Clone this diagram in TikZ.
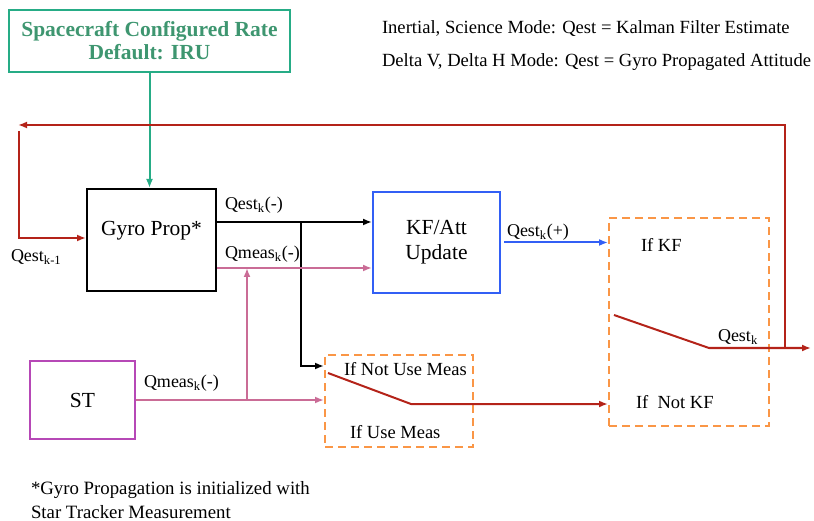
\documentclass[tikz,border=0pt]{standalone}
\usepackage{fontspec}
\setmainfont{Liberation Serif}
\usetikzlibrary{positioning,arrows.meta}

\definecolor{rategreen}{RGB}{38,172,134}
\definecolor{ratetext}{RGB}{62,150,112}
\definecolor{loopred}{RGB}{180,35,25}
\definecolor{measpink}{RGB}{202,108,150}
\definecolor{stpurple}{RGB}{182,72,182}
\definecolor{kfblue}{RGB}{50,95,245}
\definecolor{switchorange}{RGB}{250,150,70}

\tikzset{
	blockfont/.style={font=\fontsize{21.5}{25}\selectfont},
	lbl/.style={font=\fontsize{18}{22}\selectfont, inner sep=0pt, anchor=west},
	notefont/.style={font=\fontsize{18.6}{22}\selectfont},
	flow/.style={-{Latex[length=9pt,width=7pt]}},
	switchbox/.style={draw=switchorange, line width=2pt, dash pattern=on 8pt off 5pt},
}

\begin{document}
\begin{tikzpicture}[x=1pt, y=-1pt, line width=2pt]

\useasboundingbox (0,0) rectangle (814,521);

% Rate source
\node [draw=rategreen,
	line width=2.2pt,
	minimum width=281pt,
	minimum height=62pt,
	align=center,
	text=ratetext,
	font=\bfseries\fontsize{21.5}{23}\selectfont
] (rate) at (149.5,41) {
Spacecraft Configured Rate\\Default: IRU
};

% Mode notes
\node [lbl, notefont] (inertial) at (381,29) {Inertial, Science Mode: Qest = Kalman Filter Estimate};
\node [lbl, notefont] (delta) at (381,62) {Delta V, Delta H Mode: Qest = Gyro Propagated Attitude};

% Gyro propagation
\node [draw,
	minimum width=129pt,
	minimum height=102pt,
	text depth=24pt,
	blockfont
] (gyro) at (151.5,240) {
Gyro Prop*
};

% KF / attitude update
\node [draw=kfblue,
	minimum width=127pt,
	minimum height=101pt,
	align=center,
	blockfont
] (kf) at (436.5,242.5) {
KF/Att\\Update
};

% Star tracker
\node [draw=stpurple,
	minimum width=105pt,
	minimum height=78pt,
	blockfont
] (st) at (82.5,400) {
ST
};

% Measurement switch
\node [switchbox,
	minimum width=148pt,
	minimum height=92pt
] (selmeas) at (399,401) {};
\node [lbl, font=\fontsize{18.5}{22}\selectfont] (notuse) at (343,369) {If Not Use Meas};
\node [lbl, font=\fontsize{18.5}{22}\selectfont] (use) at (349,432) {If Use Meas};

% KF switch
\node [switchbox,
	minimum width=160pt,
	minimum height=208pt
] (selkf) at (689,322) {};
\node [lbl, font=\fontsize{18.5}{22}\selectfont] (ifkf) at (640,245) {If KF};
\node [lbl, font=\fontsize{18.5}{22}\selectfont] (ifnotkf) at (635,402) {If\ \ Not KF};

% Footnote
\node [lbl, font=\fontsize{18.8}{22}\selectfont] (note1) at (30,490) {*Gyro Propagation is initialized with};
\node [lbl, font=\fontsize{18.8}{22}\selectfont] (note2) at (30,512) {Star Tracker Measurement};

% Arrows with text label
\draw[flow, rategreen] (rate.south) -- (rate.south |- gyro.north);

\draw[flow] ([yshift=18pt]gyro.east) -- ([yshift=18pt]gyro.east -| kf.west);
\node [lbl] (qestminus) at (224,205) {Qest\textsubscript{k}(-)};
\coordinate (branch) at (301,222);
\draw[flow] (branch) |- ([yshift=35pt]selmeas.west);

\draw[flow, measpink] ([yshift=-28pt]gyro.east) -- ([yshift=-28pt]gyro.east -| kf.west);
\node [lbl] (qmeasgyro) at (224,254) {Qmeas\textsubscript{k}(-)};
\draw[flow, measpink] (st.east) -- (st.east -| selmeas.west);
\node [lbl] (qmeasst) at (143,383) {Qmeas\textsubscript{k}(-)};
\coordinate (tap) at (247,400);
\draw[flow, measpink] (tap) -- (tap |- 0,268);

\draw[flow, kfblue] ([xshift=3pt]kf.east) -- (kf.east -| selkf.west);
\node [lbl] (qestplus) at (506,232) {Qest\textsubscript{k}(+)};

% Switch blades
\coordinate (measpole) at (328,373);
\coordinate (measpivot) at (411,404);
\draw[flow, loopred] (measpole) -- (measpivot) -- (measpivot -| selkf.west);

\coordinate (kfpole) at (614,315);
\coordinate (kfpivot) at (709,348);
\coordinate (qout) at (811,348);
\draw[flow, loopred] (kfpole) -- (kfpivot) -- (qout);
\node [lbl] (qestk) at (717,337) {Qest\textsubscript{k}};

% Feedback loop
\coordinate (looptap) at (785,348);
\coordinate (looptop) at (18,125);
\coordinate (loopdown) at (19,131);
\draw[flow, loopred] (looptap) |- (looptop);
\draw[flow, loopred] (loopdown) |- ([yshift=2pt]gyro.west);
\node [lbl] (qestprev) at (10,257) {Qest\textsubscript{k-1}};

\end{tikzpicture}
\end{document}
